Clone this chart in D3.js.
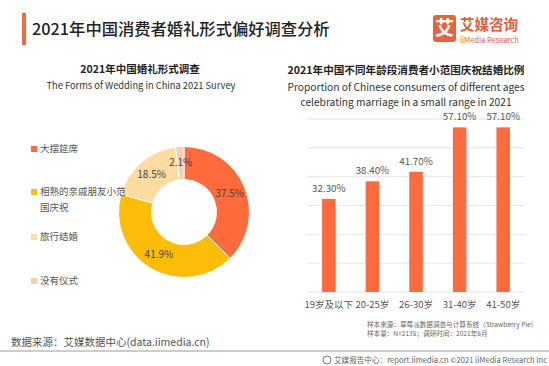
<!DOCTYPE html>
<html><head><meta charset="utf-8">
<script src="https://cdn.jsdelivr.net/npm/d3@7/dist/d3.min.js"></script>
<style>
html,body{margin:0;padding:0;background:#fff;}
svg{display:block;font-family:"Noto Sans CJK SC","Open Sans",sans-serif;}
</style></head>
<body>
<script>
// ---------- data ----------
const pieCategories = ["大摆筵席", "相熟的亲戚朋友小范围庆祝", "旅行结婚", "没有仪式"];
const pieValues = [37.5, 41.9, 18.5, 2.1];
const pieColors = ["#FF6B3D", "#FBBD0A", "#FCDCA1", "#F7CDB8"];
const legendLines = [["大摆筵席"], ["相熟的亲戚朋友小范", "国庆祝"], ["旅行结婚"], ["没有仪式"]];

const barCategories = ["19岁及以下", "20-25岁", "26-30岁", "31-40岁", "41-50岁"];
const barValues = [32.3, 38.4, 41.7, 57.1, 57.1];
const yTicks = [0, 10, 20, 30, 40, 50, 60];

const W = 549, H = 366;
const svg = d3.select("body").append("svg").attr("width", W).attr("height", H);

// ---------- header ----------
svg.append("rect").attr("x", 22).attr("y", 13).attr("width", 4).attr("height", 32).attr("fill", "#F26A3E");
svg.append("text").attr("x", 32).attr("y", 35).attr("font-size", 16.3).attr("font-weight", 500)
  .attr("fill", "#222").text("2021年中国消费者婚礼形式偏好调查分析");

// logo
const logo = svg.append("g");
logo.append("rect").attr("x", 433).attr("y", 15).attr("width", 23).attr("height", 27).attr("rx", 3).attr("fill", "#E8623D");
logo.append("text").attr("x", 444.5).attr("y", 35).attr("text-anchor", "middle").attr("font-size", 19)
  .attr("font-weight", 700).attr("fill", "#fff").text("艾");
logo.append("text").attr("x", 460).attr("y", 30).attr("font-size", 14.5).attr("font-weight", 700)
  .attr("fill", "#E0603A").text("艾媒咨询");
logo.append("text").attr("x", 460).attr("y", 43).attr("font-size", 7.5)
  .attr("fill", "#E0603A").text("iiMedia Research");

// ---------- left: donut ----------
svg.append("text").attr("x", 140).attr("y", 73).attr("text-anchor", "middle").attr("font-size", 10.5)
  .attr("font-weight", 700).attr("fill", "#222").text("2021年中国婚礼形式调查");
svg.append("text").attr("x", 141).attr("y", 89).attr("text-anchor", "middle").attr("font-size", 9.3)
  .attr("fill", "#333").text("The Forms of Wedding  in China 2021 Survey");

const cx = 184, cy = 212, R = 65.5, r = 32.5;
const pie = d3.pie().sort(null).value(d => d)(pieValues);
const arc = d3.arc().innerRadius(r).outerRadius(R);
const labelArc = d3.arc().innerRadius((r + R) / 2 + 0.5).outerRadius((r + R) / 2 + 0.5);
const dg = svg.append("g").attr("transform", `translate(${cx},${cy})`);
dg.selectAll("path").data(pie).join("path").attr("d", arc)
  .attr("fill", (d, i) => pieColors[i]).attr("stroke", "#fff").attr("stroke-width", 1);
dg.selectAll("text").data(pie).join("text")
  .attr("transform", d => `translate(${labelArc.centroid(d)})`)
  .attr("text-anchor", "middle").attr("dy", "0.35em").attr("font-size", 10)
  .attr("fill", "#444").text(d => d.data.toFixed(1) + "%");

// legend
const legendY = [149, 192, 237, 281];
const lg = svg.append("g");
legendLines.forEach((lines, i) => {
  lg.append("rect").attr("x", 31).attr("y", legendY[i] - 3).attr("width", 6).attr("height", 6).attr("fill", pieColors[i]);
  lines.forEach((t, j) => {
    lg.append("text").attr("x", 40).attr("y", legendY[i] + j * 16).attr("dy", "0.35em")
      .attr("font-size", 9.5).attr("fill", "#555").text(t);
  });
});

// ---------- right: bars ----------
svg.append("text").attr("x", 406).attr("y", 74).attr("text-anchor", "middle").attr("font-size", 10.6)
  .attr("font-weight", 700).attr("fill", "#222").text("2021年中国不同年龄段消费者小范围庆祝结婚比例");
svg.append("text").attr("x", 406).attr("y", 91).attr("text-anchor", "middle").attr("font-size", 10.2)
  .attr("fill", "#333").text("Proportion of Chinese consumers of different ages");
svg.append("text").attr("x", 406).attr("y", 106).attr("text-anchor", "middle").attr("font-size", 10.2)
  .attr("fill", "#333").text("celebrating marriage in a small range in 2021");

const x = d3.scaleBand().domain(barCategories).range([307, 525]).paddingInner(0.69).paddingOuter(0.345);
const y = d3.scaleLinear().domain([0, 60]).range([292, 119]);

svg.append("g").selectAll("line").data(yTicks).join("line")
  .attr("x1", 307).attr("x2", 525).attr("y1", d => y(d)).attr("y2", d => y(d))
  .attr("stroke", "#e6e6e6").attr("stroke-width", 1);

svg.append("g").selectAll("rect").data(barValues).join("rect")
  .attr("x", (d, i) => x(barCategories[i])).attr("width", x.bandwidth())
  .attr("y", d => y(d)).attr("height", d => y(0) - y(d)).attr("fill", "#FF6B3D");

svg.append("g").selectAll("text").data(barValues).join("text")
  .attr("x", (d, i) => x(barCategories[i]) + x.bandwidth() / 2)
  .attr("y", d => y(d) - 7).attr("text-anchor", "middle").attr("font-size", 9.8)
  .attr("fill", "#555").text(d => d.toFixed(2) + "%");

const xAxis = svg.append("g").attr("transform", "translate(0,292)")
  .call(d3.axisBottom(x).tickSize(0).tickPadding(9));
xAxis.select(".domain").remove();
xAxis.selectAll("text").attr("font-size", 9.5).attr("fill", "#555")
  .attr("font-family", '"Noto Sans CJK SC",sans-serif');

// ---------- footer ----------
svg.append("text").attr("x", 11).attr("y", 342).attr("dy", "0.35em").attr("font-size", 10.5)
  .attr("fill", "#555").text("数据来源：艾媒数据中心(data.iimedia.cn)");
svg.append("text").attr("x", 367).attr("y", 325).attr("dy", "0.35em").attr("font-size", 6.6)
  .attr("fill", "#666").text("样本来源：草莓派数据调查与计算系统（Strawberry Pie)");
svg.append("text").attr("x", 367).attr("y", 334).attr("dy", "0.35em").attr("font-size", 6.6)
  .attr("fill", "#666").text("样本量：N=2135；调研时间：2021年6月");
svg.append("line").attr("x1", 0).attr("x2", W).attr("y1", 351).attr("y2", 351)
  .attr("stroke", "#999").attr("stroke-width", 1.2);
svg.append("circle").attr("cx", 327).attr("cy", 360).attr("r", 4).attr("fill", "none").attr("stroke", "#777").attr("stroke-width", 1);
svg.append("text").attr("x", 334).attr("y", 360).attr("dy", "0.35em").attr("font-size", 7.6)
  .attr("fill", "#666").text("艾媒报告中心：report.iimedia.cn  ©2021  iiMedia Research  Inc");
</script>
</body></html>
